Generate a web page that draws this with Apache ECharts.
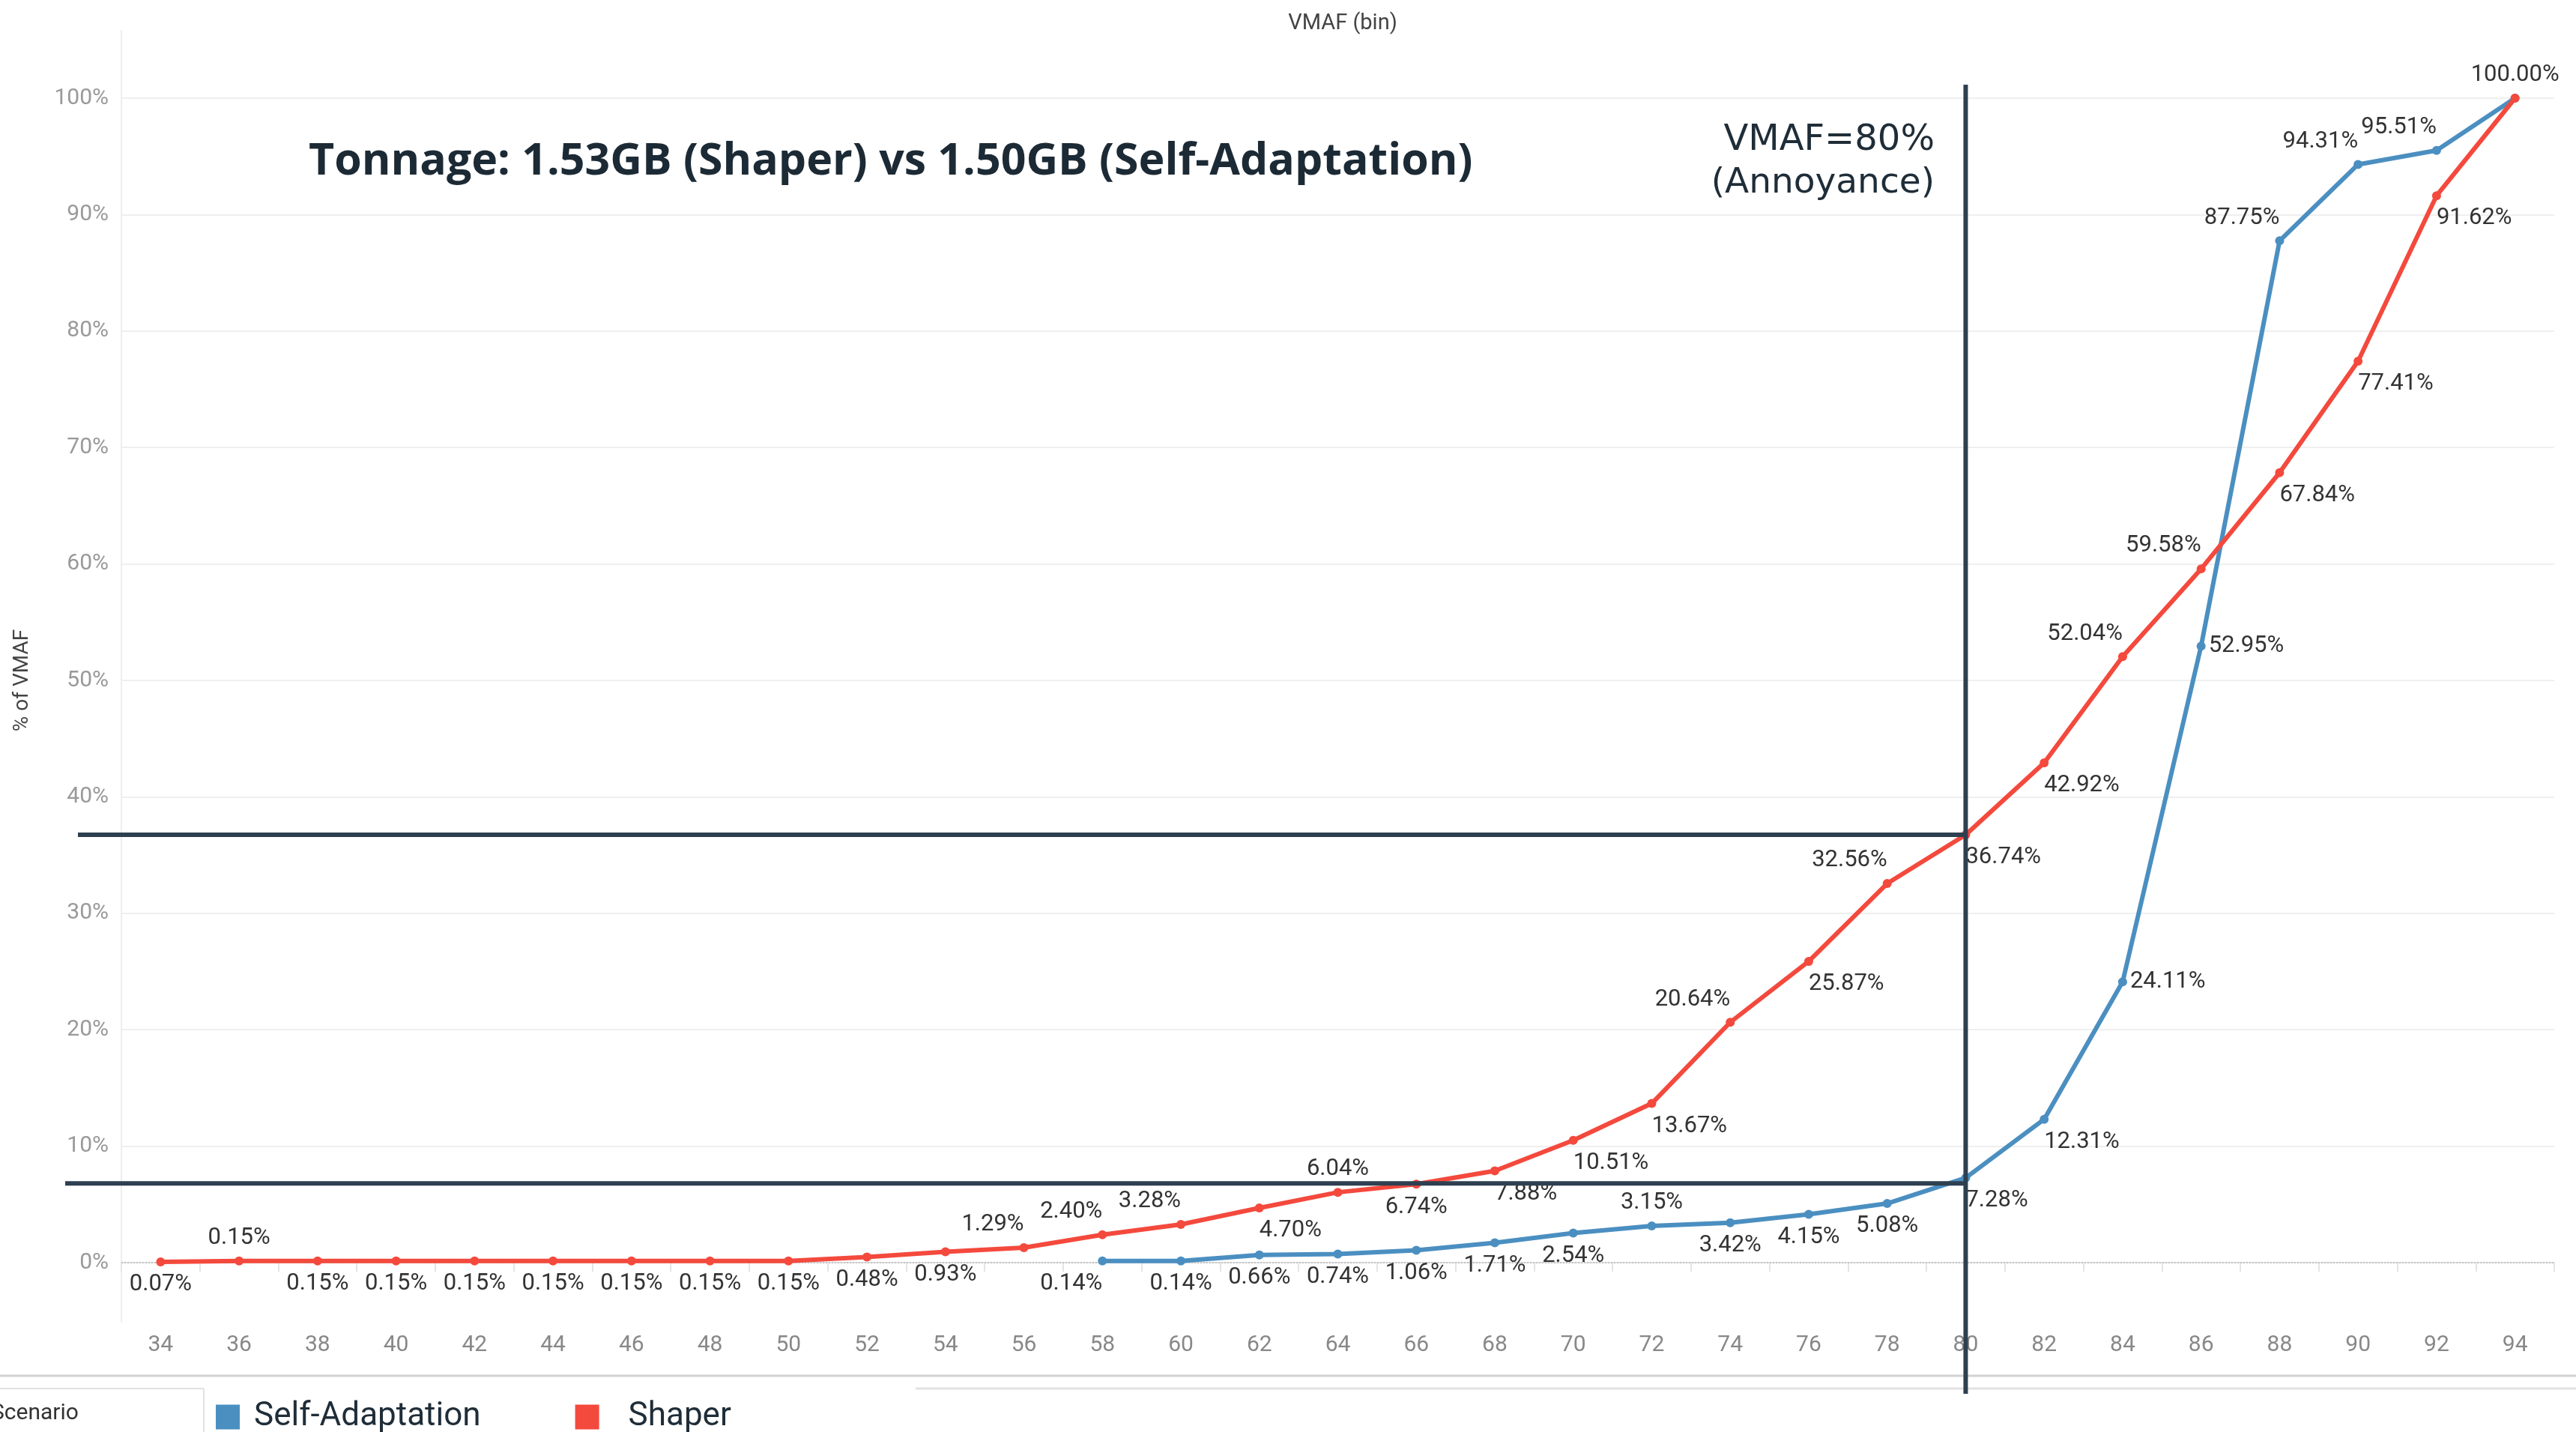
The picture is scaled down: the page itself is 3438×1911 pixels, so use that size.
<!DOCTYPE html>
<html>
<head>
<meta charset="utf-8">
<script src="https://cdn.jsdelivr.net/npm/echarts@6/dist/echarts.min.js"></script>
<style>
  html, body { margin: 0; padding: 0; background: #fff; }
  #main { width: 3438px; height: 1911px; }
</style>
</head>
<body>
<div id="main"></div>
<script>
// VMAF 分箱
var vmafBins = ['34', '36', '38', '40', '42', '44', '46', '48', '50', '52', '54', '56', '58', '60', '62',
    '64', '66', '68', '70', '72', '74', '76', '78', '80', '82', '84', '86', '88', '90', '92', '94']
// Shaper 累计占比 (%)
var shaperPct = [0.07, 0.15, 0.15, 0.15, 0.15, 0.15, 0.15, 0.15, 0.15, 0.48, 0.93, 1.29, 2.40, 3.28, 4.70,
    6.04, 6.74, 7.88, 10.51, 13.67, 20.64, 25.87, 32.56, 36.74, 42.92, 52.04, 59.58, 67.84, 77.41, 91.62, 100.00]
// Self-Adaptation 累计占比 (%)，58 之前无数据
var selfAdaptPct = [null, null, null, null, null, null, null, null, null, null, null, null,
    0.14, 0.14, 0.66, 0.74, 1.06, 1.71, 2.54, 3.15, 3.42, 4.15, 5.08, 7.28, 12.31, 24.11, 52.95, 87.75, 94.31, 95.51, 100.00]
// y 轴刻度
var yTicks = [0, 10, 20, 30, 40, 50, 60, 70, 80, 90, 100]
// 参考线：VMAF=80 处两条水平线
var refBin = '80'
var refHigh = 36.74
var refLow = 6.8

// 标签摆放位置 (T 上, B 下, TL 左上, BR 右下, BL 左下, R 右, - 不显示)
var shaperLabelPos = ['B', 'T', 'B', 'B', 'B', 'B', 'B', 'B', 'B', 'B', 'B', 'TL', 'TL', 'TL', 'BR',
    'T', 'B', 'BR', 'BR', 'BR', 'TL', 'BR', 'TL', 'BR', 'BR', 'TL', 'TL', 'BR', 'BR', 'BR', 'T']
var selfLabelPos = ['-', '-', '-', '-', '-', '-', '-', '-', '-', '-', '-', '-',
    'BL', 'B', 'B', 'B', 'B', 'B', 'B', 'T', 'B', 'B', 'B', 'BR', 'BR', 'R', 'R', 'TL', 'TL', 'TL', '-']

var RED = '#f4493d'
var BLUE = '#4b8fc1'
var DARK = '#2e4050'

function placeLabel(code) {
    switch (code) {
        case 'T': return {position: 'top'};
        case 'B': return {position: 'bottom'};
        case 'TL': return {position: 'top', align: 'right'};
        case 'BR': return {position: 'bottom', align: 'left'};
        case 'BL': return {position: 'bottom', align: 'right'};
        case 'R': return {position: 'right', distance: 4};
        default: return {show: false};
    }
}

function buildData(values, pos) {
    return values.map(function (v, i) {
        if (v === null) return '-';
        return {value: v, label: placeLabel(pos[i])};
    });
}

var labelStyle = {
    show: true,
    fontFamily: 'Roboto',
    fontSize: 31,
    color: '#333',
    distance: 9,
    formatter: function (p) { return p.value.toFixed(2) + '%'; }
}

var myChart = echarts.init(document.getElementById('main'));

// 0% 处用虚线，另画
var gridColors = yTicks.map(function (t) { return t === 0 ? 'rgba(0,0,0,0)' : '#efefef'; });

var option = {
    animation: false,
    backgroundColor: '#fff',
    title: {
        text: 'VMAF (bin)',
        left: 1787,
        top: 12,
        textAlign: 'center',
        textStyle: {fontFamily: 'Roboto', fontSize: 29, fontWeight: 'normal', color: '#444'}
    },
    legend: {
        data: [
            {name: 'Self-Adaptation'},
            {name: 'Shaper', textStyle: {padding: [0, 0, 0, 34]}}
        ],
        left: 283,
        top: 1864,
        icon: 'rect',
        itemWidth: 32,
        itemHeight: 33,
        itemGap: 126,
        textStyle: {fontFamily: 'Roboto', fontSize: 44, color: '#1f2d38', padding: [0, 0, 0, 14]}
    },
    grid: {left: 162, right: 29, top: 131, bottom: 226},
    xAxis: {
        type: 'category',
        data: vmafBins,
        boundaryGap: true,
        offset: 80,
        axisLine: {lineStyle: {color: '#e4e4e4', width: 2}},
        axisTick: {show: true, length: 12, lineStyle: {color: '#e4e4e4', width: 2}},
        axisLabel: {fontFamily: 'Roboto', fontSize: 30, color: '#888', margin: 15},
        splitLine: {show: false}
    },
    yAxis: {
        type: 'value',
        min: 0,
        max: 100,
        interval: 10,
        name: '% of VMAF',
        nameLocation: 'middle',
        nameGap: 118,
        nameTextStyle: {fontFamily: 'Roboto', fontSize: 28, color: '#444'},
        axisLine: {show: false},
        axisTick: {show: false},
        axisLabel: {fontFamily: 'Roboto', fontSize: 30, color: '#999', margin: 17, formatter: '{value}%'},
        splitLine: {lineStyle: {color: gridColors, width: 2}}
    },
    series: [
        {
            name: 'Self-Adaptation',
            type: 'line',
            data: buildData(selfAdaptPct, selfLabelPos),
            color: BLUE,
            symbol: 'circle',
            symbolSize: 12,
            lineStyle: {width: 6},
            label: labelStyle,
            emphasis: {disabled: true},
            z: 3
        },
        {
            name: 'Shaper',
            type: 'line',
            data: buildData(shaperPct, shaperLabelPos),
            color: RED,
            symbol: 'circle',
            symbolSize: 12,
            lineStyle: {width: 6},
            label: labelStyle,
            emphasis: {disabled: true},
            z: 4,
            markLine: {
                silent: true,
                symbol: 'none',
                label: {show: false},
                lineStyle: {color: '#c4c4c4', type: 'dotted', width: 2},
                data: [{yAxis: 0}],
                z: 1
            }
        }
    ]
};

myChart.setOption(option);

// 参考线与注释，用坐标轴换算位置
var x80 = myChart.convertToPixel({xAxisIndex: 0}, refBin);
var yHigh = myChart.convertToPixel({yAxisIndex: 0}, refHigh);
var yLow = myChart.convertToPixel({yAxisIndex: 0}, refLow);

myChart.setOption({
    graphic: [
        // 左侧和底部框线
        {type: 'line', shape: {x1: 162, y1: 40, x2: 162, y2: 1765}, style: {stroke: '#eeeeee', lineWidth: 2}, z: 0},
        {type: 'line', shape: {x1: 0, y1: 1836, x2: 3438, y2: 1836}, style: {stroke: '#d2d2d2', lineWidth: 3}},
        {type: 'line', shape: {x1: 0, y1: 1853, x2: 272, y2: 1853}, style: {stroke: '#e2e2e2', lineWidth: 2}},
        {type: 'line', shape: {x1: 272, y1: 1853, x2: 272, y2: 1911}, style: {stroke: '#e2e2e2', lineWidth: 2}},
        {type: 'line', shape: {x1: 1222, y1: 1853, x2: 3438, y2: 1853}, style: {stroke: '#e2e2e2', lineWidth: 3}},
        {type: 'text', left: -12, top: 1871, style: {text: 'Scenario', font: '30px Roboto', fill: '#333'}},
        // 参考线
        {type: 'line', shape: {x1: x80, y1: 113, x2: x80, y2: 1860}, style: {stroke: DARK, lineWidth: 6}, z: 100},
        {type: 'line', shape: {x1: 104, y1: yHigh, x2: x80, y2: yHigh}, style: {stroke: DARK, lineWidth: 6}, z: 100},
        {type: 'line', shape: {x1: 87, y1: yLow, x2: x80, y2: yLow}, style: {stroke: DARK, lineWidth: 6}, z: 100},
        // 注释文字
        {type: 'text', x: 412, y: 216, z: 100,
            style: {text: 'Tonnage: 1.53GB (Shaper) vs 1.50GB (Self-Adaptation)', font: 'bold 59px "Open Sans"',
                fill: '#1c2a35', textAlign: 'left', textVerticalAlign: 'middle'}},
        {type: 'text', x: 2582, y: 188, z: 100,
            style: {text: 'VMAF=80%', font: '48px "DejaVu Sans"', fill: '#1f2d38', textAlign: 'right', textVerticalAlign: 'middle'}},
        {type: 'text', x: 2582, y: 245, z: 100,
            style: {text: '(Annoyance)', font: '47px "DejaVu Sans"', fill: '#1f2d38', textAlign: 'right', textVerticalAlign: 'middle'}}
    ]
});

window.addEventListener('resize', () => {
    myChart.resize()
})
</script>
</body>
</html>
